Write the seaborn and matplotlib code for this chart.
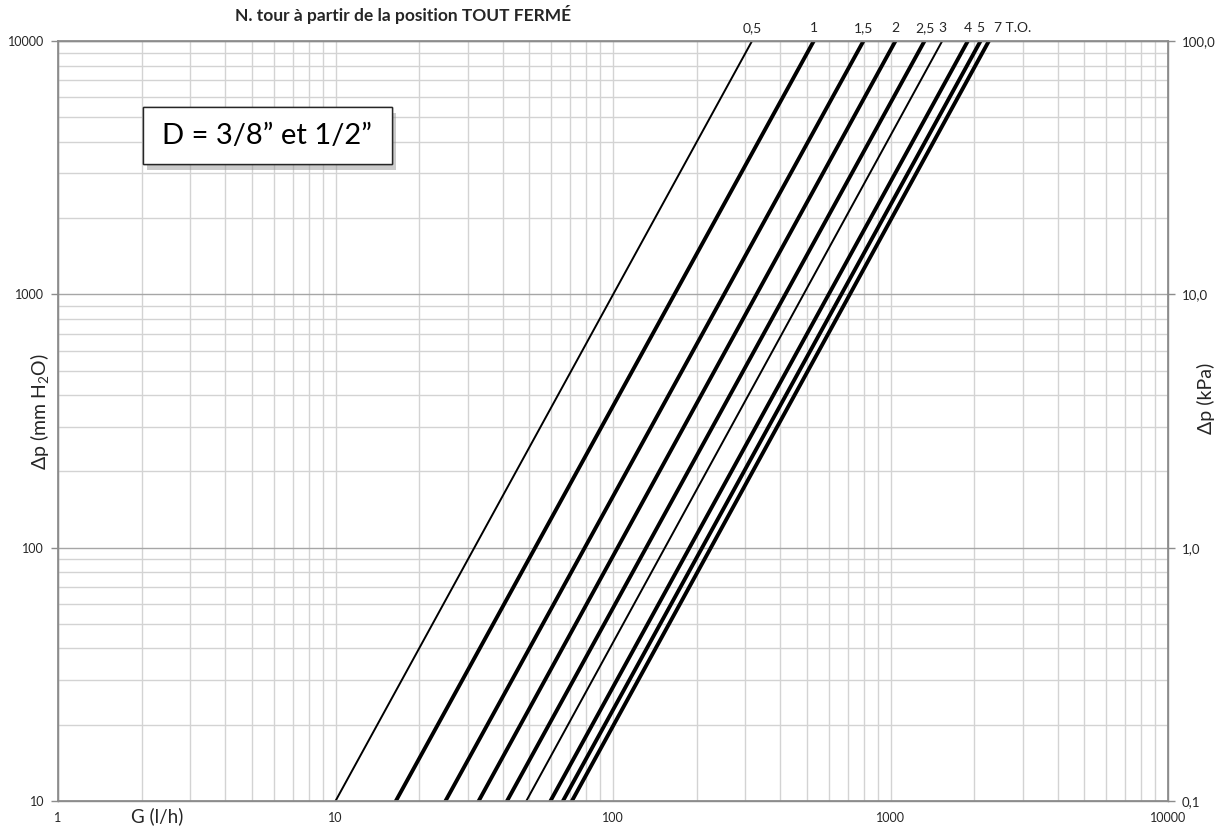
import matplotlib
matplotlib.use("Agg")
import matplotlib.pyplot as plt
import matplotlib.patheffects as pe
from matplotlib.patches import Rectangle
from matplotlib.ticker import FixedLocator, FixedFormatter, NullLocator, LogLocator
import pandas as pd
import seaborn as sns

# data: flow G (l/h) where each curve hits dp = 10 and dp = 10000 mm H2O
tours = ["0,5", "1", "1,5", "2", "2,5", "3", "4", "5", "7 T.O."]
g_at_10 = [10.0, 16.5, 24.9, 32.8, 41.5, 48.7, 59.5, 66.0, 71.1]
g_at_10000 = [317, 529, 799, 1042, 1326, 1536, 1900, 2111, 2262]
dp_ends = [10, 10000]
thin_curves = ["0,5", "3"]

x_ticks = [1, 10, 100, 1000, 10000]
x_labels = ["1", "10", "100", "1000", "10000"]
y_ticks = [10, 100, 1000, 10000]
y_labels = ["10", "100", "1000", "10000"]
kpa_ticks = [0.1, 1, 10, 100]
kpa_labels = ["0,1", "1,0", "10,0", "100,0"]

rows = []
for t, g0, g1 in zip(tours, g_at_10, g_at_10000):
    rows.append({"tour": t, "G": g0, "dp": dp_ends[0]})
    rows.append({"tour": t, "G": g1, "dp": dp_ends[1]})
df = pd.DataFrame(rows)

sns.set_theme(style="white")
plt.rcParams["font.family"] = ["Lato", "DejaVu Sans"]
plt.rcParams["mathtext.fontset"] = "custom"
plt.rcParams["mathtext.rm"] = "Lato"

fig = plt.figure(figsize=(12.16, 8.3), dpi=100)
ax = fig.add_axes([58 / 1216, 1 - 801 / 830, 1110 / 1216, 760 / 830])
ax.set_xscale("log")
ax.set_yscale("log")
ax.set_xlim(1, 10000)
ax.set_ylim(10, 10000)

# grid: minor light, horizontal majors a bit darker
ax.xaxis.set_minor_locator(LogLocator(base=10, subs=range(2, 10)))
ax.yaxis.set_minor_locator(LogLocator(base=10, subs=range(2, 10)))
ax.grid(which="minor", axis="both", color="#d3d3d3", linewidth=1.0)
ax.grid(which="major", axis="x", color="#d3d3d3", linewidth=1.0)
ax.grid(which="major", axis="y", color="#a6a6a6", linewidth=1.0)
ax.tick_params(which="minor", length=0)

for t in tours:
    sub = df[df["tour"] == t]
    lw = 1.4 if t in thin_curves else 2.8
    sns.lineplot(data=sub, x="G", y="dp", color="black", linewidth=lw, ax=ax,
                 legend=False, sort=False)

ax.xaxis.set_major_locator(FixedLocator(x_ticks))
ax.xaxis.set_major_formatter(FixedFormatter(x_labels))
ax.yaxis.set_major_locator(FixedLocator(y_ticks))
ax.yaxis.set_major_formatter(FixedFormatter(y_labels))
ax.tick_params(which="major", length=5, width=1, color="#8c8c8c", labelsize=9,
               labelcolor="#262626", direction="out")
ax.tick_params(axis="x", pad=3)
ax.tick_params(axis="y", pad=5)
ax.set_xlabel("")
ax.set_ylabel("")
for sp in ax.spines.values():
    sp.set_color("#8c8c8c")
    sp.set_linewidth(1.0)

# right axis in kPa
ax2 = ax.twinx()
ax2.set_yscale("log")
ax2.set_ylim(0.1, 100)
ax2.yaxis.set_major_locator(FixedLocator(kpa_ticks))
ax2.yaxis.set_major_formatter(FixedFormatter(kpa_labels))
ax2.yaxis.set_minor_locator(NullLocator())
ax2.tick_params(which="major", length=5, width=1, color="#8c8c8c", labelsize=9.5,
                labelcolor="#262626", direction="out", pad=5)
ax2.set_ylabel("")
for sp in ax2.spines.values():
    sp.set_color("#8c8c8c")

# curve labels at the top
for t, g1 in zip(tours, g_at_10000):
    if t == tours[-1]:
        ax.annotate(t, xy=(g1, 1.0), xycoords=("data", "axes fraction"),
                    xytext=(4, 5), textcoords="offset points", ha="left",
                    va="bottom", fontsize=10, color="#262626")
    else:
        ax.annotate(t, xy=(g1, 1.0), xycoords=("data", "axes fraction"),
                    xytext=(0, 5), textcoords="offset points", ha="center",
                    va="bottom", fontsize=10, color="#262626")

fig.text(403 / 1216, 1 - 14 / 830, "N. tour à partir de la position TOUT FERMÉ",
         ha="center", va="center", fontsize=12.5, fontweight="bold", color="#262626")
fig.text(157 / 1216, 1 - 816 / 830, "G (l/h)", ha="center", va="center",
         fontsize=13.5, color="#262626")
fig.text(40 / 1216, 1 - 412 / 830, "Δp (mm H$_\\mathregular{2}$O)", ha="center",
         va="center", rotation=90, fontsize=14, color="#262626")
fig.text(1206 / 1216, 1 - 398 / 830, "Δp (kPa)", ha="center", va="center",
         rotation=90, fontsize=14, color="#262626")

# boxed diameter note with shadow
box = Rectangle((143 / 1216, 1 - 164 / 830), 249 / 1216, 57 / 830,
                transform=fig.transFigure, facecolor="white", edgecolor="#262626",
                linewidth=1.0, zorder=5)
box.set_path_effects([pe.withSimplePatchShadow(offset=(3, -4), shadow_rgbFace="#8c8c8c",
                                               alpha=0.45), pe.Normal()])
fig.add_artist(box)
fig.text(267 / 1216, 1 - 136 / 830, "D = 3/8” et 1/2”", ha="center", va="center",
         fontsize=21, color="black", zorder=6)

fig.savefig("out.png", dpi=100)
